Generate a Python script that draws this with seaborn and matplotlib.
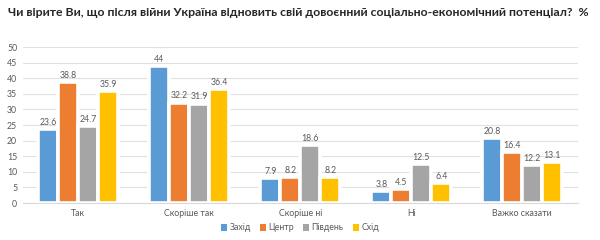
import numpy as np
import pandas as pd
import seaborn as sns
import matplotlib.pyplot as plt

categories = ['Так', 'Скоріше так', 'Скоріше ні', 'Ні', 'Важко сказати']
regions = ['Захід', 'Центр', 'Південь', 'Схід']
zahid = [23.6, 44, 7.9, 3.8, 20.8]
tsentr = [38.8, 32.2, 8.2, 4.5, 16.4]
pivden = [24.7, 31.9, 18.6, 12.5, 12.2]
skhid = [35.9, 36.4, 8.2, 6.4, 13.1]
colors = ['#5B9BD5', '#ED7D31', '#A5A5A5', '#FFC000']

rows = []
for reg, vals in zip(regions, [zahid, tsentr, pivden, skhid]):
    for c, v in zip(categories, vals):
        rows.append({'cat': c, 'region': reg, 'value': v})
df = pd.DataFrame(rows)

sns.set_style('white')
plt.rcParams['font.family'] = ['Lato', 'DejaVu Sans']

fig = plt.figure(figsize=(6, 2.4), dpi=100)
ax = fig.add_axes([0.038, 0.154, 0.925, 0.65])

sns.barplot(data=df, x='cat', y='value', hue='region', order=categories,
            hue_order=regions, palette=colors, width=0.72, saturation=1,
            edgecolor='white', linewidth=2.6, ax=ax, legend=False)

for cont in ax.containers:
    ax.bar_label(cont, labels=[f'{v:g}' for v in cont.datavalues],
                 padding=1.5, fontsize=6.3, color='#595959')

ax.set_ylim(0, 50)
ax.set_yticks(range(0, 51, 5))
ax.yaxis.grid(True, color='#E0E0E0', linewidth=0.8)
ax.set_axisbelow(True)
for s in ['top', 'right', 'left']:
    ax.spines[s].set_visible(False)
ax.spines['bottom'].set_color('#D9D9D9')
ax.tick_params(axis='both', length=0, labelsize=6.3, colors='#595959', pad=4)
ax.set_xlabel('')
ax.set_ylabel('')

handles = [plt.Rectangle((0, 0), 1, 1, facecolor=c, edgecolor='none') for c in colors]
fig.legend(handles, regions, loc='center', bbox_to_anchor=(0.5, 0.05), ncol=4, frameon=False,
           fontsize=6.3, handlelength=0.7, handleheight=0.7, handletextpad=0.3,
           columnspacing=1.0, labelcolor='#595959')

fig.text(0.013, 0.95, 'Чи вірите Ви, що після війни Україна відновить свій довоєнний соціально-економічний потенціал?  %',
         fontsize=8.8, fontweight='bold', va='center', ha='left')

fig.savefig('out.png', dpi=100)
